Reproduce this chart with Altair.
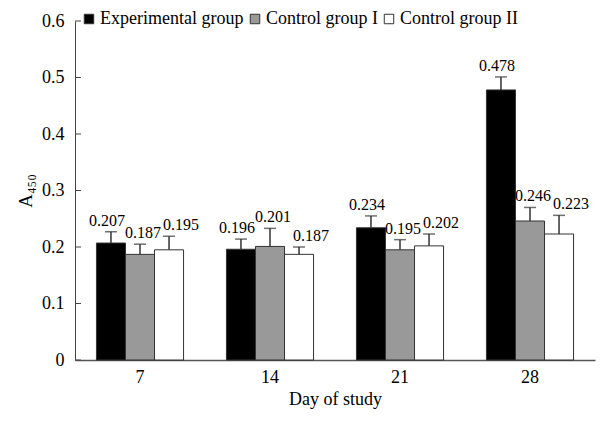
import altair as alt
import pandas as pd

days = ["7", "14", "21", "28"]
groups = ["Experimental group", "Control group I", "Control group II"]
exp_vals = [0.207, 0.196, 0.234, 0.478]
c1_vals = [0.187, 0.201, 0.195, 0.246]
c2_vals = [0.195, 0.187, 0.202, 0.223]
exp_err = [0.020, 0.018, 0.021, 0.023]
c1_err = [0.018, 0.032, 0.018, 0.024]
c2_err = [0.024, 0.013, 0.021, 0.033]
y_ticks = [0, 0.1, 0.2, 0.3, 0.4, 0.5, 0.6]

rows = []
for g, vals, errs in zip(groups, [exp_vals, c1_vals, c2_vals], [exp_err, c1_err, c2_err]):
    for d, v, e in zip(days, vals, errs):
        rows.append({"day": d, "group": g, "value": v, "upper": v + e})
df = pd.DataFrame(rows)

FONT = "Liberation Serif"

base = alt.Chart(df).encode(
    x=alt.X(
        "day:N",
        sort=days,
        scale=alt.Scale(paddingInner=0.33, paddingOuter=0.165),
        axis=alt.Axis(
            title="Day of study",
            labelAngle=0,
            ticks=False,
            grid=False,
            domainColor="#555",
            domainWidth=1.5,
            labelFontSize=18,
            titleFontSize=18,
            titleFontWeight="normal",
            labelPadding=8,
            titlePadding=4,
            labelColor="black",
            titleColor="black",
        ),
    ),
    xOffset=alt.XOffset(
        "group:N",
        sort=groups,
        scale=alt.Scale(domain=groups, paddingInner=0, paddingOuter=0),
    ),
)

yscale = alt.Scale(domain=[0, 0.6])

bars = base.mark_bar(stroke="#333", strokeWidth=1).encode(
    y=alt.Y(
        "value:Q",
        scale=yscale,
        axis=alt.Axis(
            title="A₄₅₀",
            values=y_ticks,
            format=".1~f",
            ticks=False,
            grid=False,
            domainColor="#444",
            labelFontSize=18,
            titleFontSize=19,
            titleFontWeight="normal",
            labelPadding=11,
            titlePadding=6,
            labelColor="black",
            titleColor="black",
        ),
    ),
    color=alt.Color(
        "group:N",
        sort=groups,
        scale=alt.Scale(domain=groups, range=["#000000", "#999999", "#ffffff"]),
        legend=alt.Legend(
            orient="none",
            legendX=5,
            legendY=-11,
            direction="horizontal",
            title=None,
            symbolType="square",
            symbolSize=90,
            symbolStrokeColor="#333",
            symbolStrokeWidth=1,
            labelFontSize=18,
            labelOffset=2,
            columnPadding=2,
            labelColor="black",
        ),
    ),
)

rules = base.mark_rule(color="#333", strokeWidth=1.5).encode(
    y=alt.Y("value:Q", scale=yscale), y2="upper:Q"
)
caps = base.mark_tick(color="#333", thickness=1.5, size=12).encode(
    y=alt.Y("upper:Q", scale=yscale)
)

label_dx = {"Experimental group": -4, "Control group I": 3, "Control group II": 12}
label_layers = []
for g in groups:
    label_layers.append(
        base.transform_filter(alt.datum.group == g)
        .mark_text(dy=-6, dx=label_dx[g], baseline="alphabetic", fontSize=16, color="black")
        .encode(
            y=alt.Y("upper:Q", scale=yscale),
            text=alt.Text("value:Q", format=".3f"),
        )
    )

ytick_marks = alt.Chart(pd.DataFrame({"t": y_ticks})).mark_rule(color="#444").encode(
    y=alt.Y("t:Q", scale=yscale), x=alt.value(0), x2=alt.value(6)
)

chart = (
    alt.layer(bars, rules, caps, *label_layers, ytick_marks)
    .properties(width=520, height=339, padding={"left": 8, "top": 2, "right": 5, "bottom": 5})
    .configure(font=FONT)
    .configure_view(stroke=None)
)

chart.save("out.html", embed_options={"renderer": "svg", "actions": False})
